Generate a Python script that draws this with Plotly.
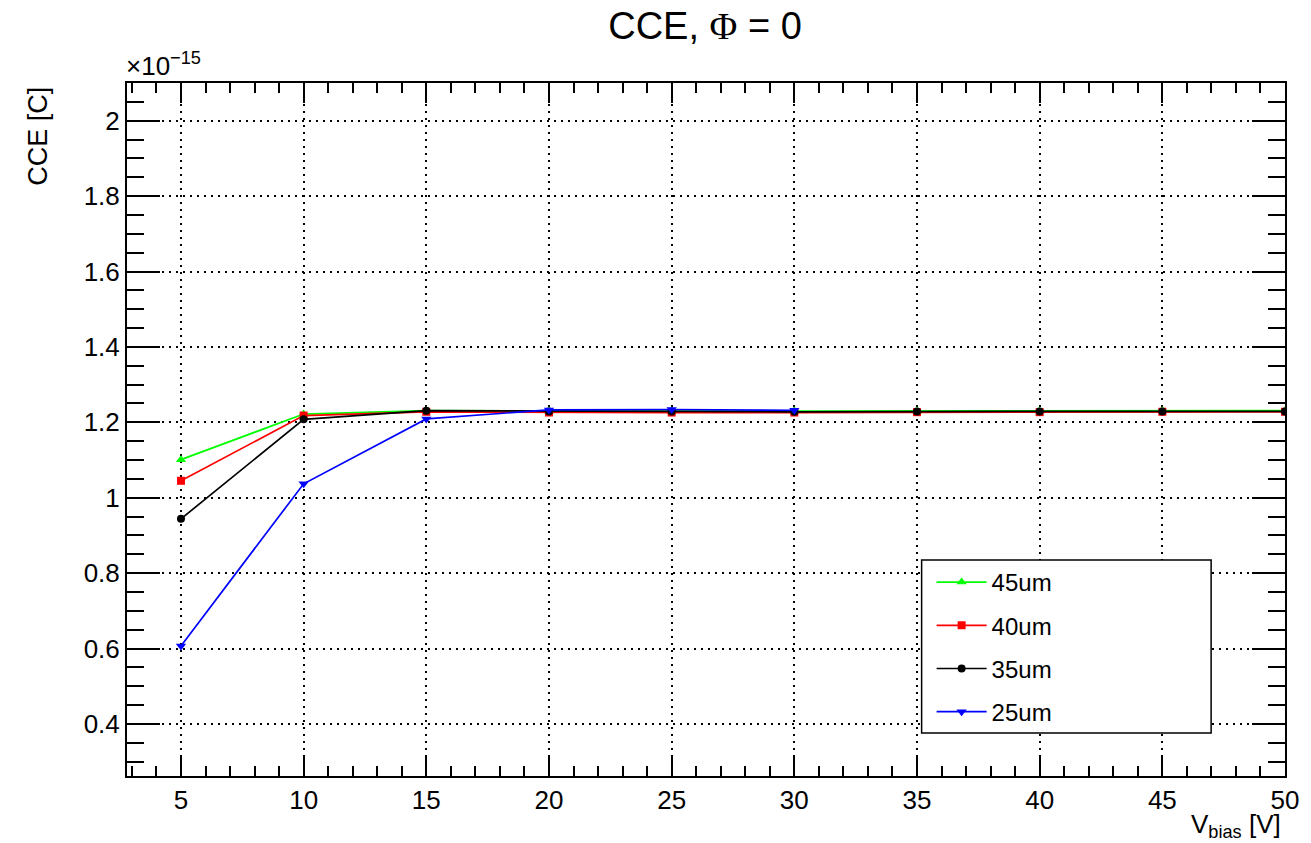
import plotly.graph_objects as go

# Data (CCE in units of 1e-15 C)
vbias_full = [5, 10, 15, 20, 25, 30, 35, 40, 45, 50]
vbias_25 = [5, 10, 15, 20, 25, 30]
cce_45um = [1.101, 1.222, 1.231, 1.230, 1.230, 1.230, 1.230, 1.230, 1.231, 1.231]
cce_40um = [1.045, 1.218, 1.228, 1.226, 1.226, 1.226, 1.227, 1.227, 1.228, 1.228]
cce_35um = [0.944, 1.208, 1.231, 1.229, 1.229, 1.228, 1.229, 1.229, 1.229, 1.229]
cce_25um = [0.607, 1.037, 1.209, 1.233, 1.234, 1.232]

FONT = "Liberation Sans, Arial, Helvetica, sans-serif"

fig = go.Figure()
series = [
    ("45um", vbias_full, cce_45um, "#00ff00", "triangle-up", 9),
    ("40um", vbias_full, cce_40um, "#ff0000", "square", 8),
    ("35um", vbias_full, cce_35um, "#000000", "circle", 8),
    ("25um", vbias_25, cce_25um, "#0000ff", "triangle-down", 9),
]
for name, xs, ys, col, sym, sz in series:
    fig.add_trace(go.Scatter(
        x=xs, y=ys, name=name, mode="lines+markers",
        line=dict(color=col, width=1.7),
        marker=dict(color=col, symbol=sym, size=sz),
        legendgroup=name,
    ))

axis_common = dict(
    showline=True, linecolor="black", linewidth=2, mirror="ticks",
    ticks="inside", tickcolor="black", tickwidth=1.5,
    showgrid=True, gridcolor="black", gridwidth=1.5, griddash="2px,5px",
    zeroline=False,
    tickfont=dict(family=FONT, size=26, color="black"),
)

fig.update_xaxes(
    range=[2.8, 50], tick0=0, dtick=5, ticklen=20,
    minor=dict(ticks="inside", dtick=1, ticklen=10, tickcolor="black", tickwidth=1.5, showgrid=False),
    **axis_common,
)
fig.update_yaxes(
    range=[0.262, 2.1], tick0=0, dtick=0.2, ticklen=33, tickformat="~g",
    minor=dict(ticks="inside", dtick=0.05, ticklen=17, tickcolor="black", tickwidth=1.5, showgrid=False),
    **axis_common,
)

# Legend box
fig.add_shape(type="rect", xref="paper", yref="paper",
              x0=(923 - 127) / 1160, x1=(1213 - 127) / 1160,
              y0=(776 - 733) / 693, y1=(776 - 560) / 693,
              line=dict(color="black", width=1.5), fillcolor="white", layer="above")

fig.update_layout(
    width=1311, height=843,
    margin=dict(l=127, r=24, t=83, b=67),
    paper_bgcolor="white", plot_bgcolor="white",
    title=dict(text='CCE, <span style="font-family:Liberation Serif, Times New Roman, serif">Φ</span> = 0',
               x=705 / 1311, xanchor="center", y=1 - 26 / 843, yanchor="middle",
               font=dict(family=FONT, size=38, color="black")),
    showlegend=True,
    legend=dict(x=(933 - 127) / 1160, y=(776 - 560) / 693, xanchor="left", yanchor="top",
                bgcolor="rgba(0,0,0,0)", borderwidth=0,
                font=dict(family=FONT, size=24, color="black"),
                traceorder="grouped", tracegroupgap=9, itemwidth=50),
    font=dict(family=FONT, color="black"),
)

fig.add_annotation(text="×10<sup>−15</sup>", xref="paper", yref="paper",
                   x=0, y=1, xanchor="left", yanchor="bottom", xshift=-3, showarrow=False,
                   font=dict(family=FONT, size=26, color="black"))
fig.add_annotation(text="CCE [C]", xref="paper", yref="paper",
                   x=(37 - 127) / 1160, y=1 - 2 / 693, xanchor="center", yanchor="top",
                   textangle=-90, showarrow=False,
                   font=dict(family=FONT, size=27, color="black"))
fig.add_annotation(text="V<sub>bias</sub> [V]", xref="paper", yref="paper",
                   x=1 - 2 / 1160, y=-(825 - 776) / 693, xanchor="right", yanchor="middle",
                   showarrow=False,
                   font=dict(family=FONT, size=26, color="black"))

fig.write_html("out.html", config={"displayModeBar": False},
               post_script="document.body.style.margin='0';")
